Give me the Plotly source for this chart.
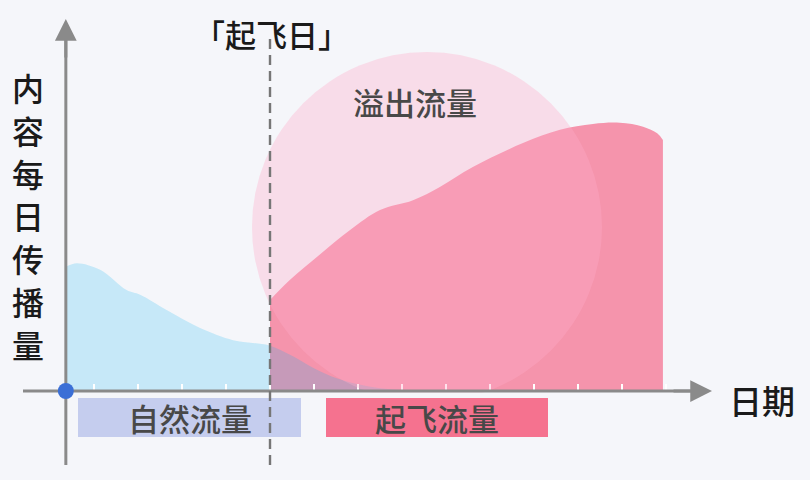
import plotly.graph_objects as go

# natural traffic before the "take-off day" (blue), by day index
natural_days = [0.36, 0.61, 1.14, 1.74, 2.05, 2.65, 3.41, 4.16, 4.61, 5.0, 5.5, 6.0, 6.5, 7.0, 7.5, 8.0, 9.0, 10.0]
natural_reach = [31.8, 32.7, 31.0, 25.8, 24.6, 20.7, 16.1, 13.0, 12.3, 11.6, 9.0, 5.8, 3.3, 1.7, 0.7, 0.25, 0.05, 0.0]

# take-off traffic (pink)
takeoff_days = [5.0, 5.45, 6.14, 6.82, 7.5, 8.25, 8.86, 9.61, 10.75, 11.59, 12.34, 12.95, 13.48, 13.80, 13.93]
takeoff_reach = [23.3, 28.4, 35.0, 41.2, 46.3, 48.8, 52.2, 57.3, 63.4, 66.8, 68.3, 68.6, 67.6, 65.9, 64.2]

tick_days = list(range(1, 15))
takeoff_day = 5
origin_day = 0.36

labels = ["自然流量", "起飞流量", "溢出流量"]
y_title = "内容每日传播量"
x_title = "日期"
takeoff_title = "「起飞日」"

BG = "#f5f6fa"
AXIS = "#8a8a8a"
FONT = "Noto Sans CJK SC"

# page layout helpers: 44 px per day, axis at 391 px, 3.91 px per unit
def dx(px):
    return (px - 50) / 44.0


def vy(py):
    return (391 - py) / 3.91


fig = go.Figure()

fig.add_trace(go.Scatter(
    x=takeoff_days, y=takeoff_reach, mode="lines", fill="tozeroy",
    line=dict(width=0, shape="spline", smoothing=1), fillcolor="#f594ac",
    hoverinfo="skip"))

fig.add_trace(go.Scatter(
    x=natural_days, y=natural_reach, mode="lines", fill="tozeroy",
    line=dict(width=0, shape="spline", smoothing=1), fillcolor="rgba(10,181,240,0.2)",
    hoverinfo="skip"))

shapes = []
# overflow bubble
shapes.append(dict(type="circle", layer="above", xref="x", yref="y",
                   x0=dx(252), x1=dx(602), y0=vy(402), y1=vy(52),
                   fillcolor="rgba(255,172,200,0.35)", line=dict(width=0)))
# hide bubble below the axis
shapes.append(dict(type="rect", layer="above", xref="x", yref="y",
                   x0=dx(0), x1=dx(810), y0=vy(480), y1=vy(392.6),
                   fillcolor=BG, line=dict(width=0)))
# axes
shapes.append(dict(type="line", layer="above", xref="x", yref="y",
                   x0=dx(23), x1=dx(700), y0=0, y1=0,
                   line=dict(color=AXIS, width=3)))
shapes.append(dict(type="line", layer="above", xref="x", yref="y",
                   x0=origin_day, x1=origin_day, y0=vy(465), y1=vy(35),
                   line=dict(color=AXIS, width=3)))
# label boxes
shapes.append(dict(type="rect", layer="above", xref="x", yref="y",
                   x0=dx(78), x1=dx(301), y0=vy(437), y1=vy(398),
                   fillcolor="#c5cdee", line=dict(width=0)))
shapes.append(dict(type="rect", layer="above", xref="x", yref="y",
                   x0=dx(326), x1=dx(548), y0=vy(437), y1=vy(398),
                   fillcolor="#f5728f", line=dict(width=0)))
# take-off day marker
shapes.append(dict(type="line", layer="above", xref="x", yref="y",
                   x0=takeoff_day, x1=takeoff_day, y0=vy(465), y1=vy(38),
                   line=dict(color="#767676", width=2.4, dash="10px,6px")))
# origin dot
shapes.append(dict(type="circle", layer="above", xref="x", yref="y",
                   xsizemode="pixel", ysizemode="pixel",
                   xanchor=origin_day, yanchor=0, x0=-8, x1=8, y0=-8, y1=8,
                   fillcolor="#3b6fd6", line=dict(width=0)))

annotations = [
    # arrow heads
    dict(x=origin_day, y=vy(19), ax=0, ay=40, showarrow=True, arrowhead=2,
         arrowsize=1.45, arrowwidth=3, arrowcolor=AXIS, text=""),
    dict(x=dx(712), y=0, ax=-40, ay=0, showarrow=True, arrowhead=2,
         arrowsize=1.45, arrowwidth=3, arrowcolor=AXIS, text=""),
]
# vertical y title, one character per row
for i, ch in enumerate(y_title):
    annotations.append(dict(x=dx(28), y=vy(87 + 42.8 * i), text=ch, showarrow=False,
                            font=dict(family=FONT, size=32, color="#1a1a1a", weight=500)))
annotations += [
    dict(x=dx(762), y=vy(400), text=x_title, showarrow=False,
         font=dict(family=FONT, size=33, color="#1a1a1a", weight=500)),
    dict(x=dx(271), y=vy(33), text=takeoff_title, showarrow=False,
         font=dict(family=FONT, size=31, color="#1a1a1a", weight=500)),
    dict(x=dx(190), y=vy(417), text=labels[0], showarrow=False,
         font=dict(family=FONT, size=31, color="#484848", weight=500)),
    dict(x=dx(437), y=vy(417), text=labels[1], showarrow=False,
         font=dict(family=FONT, size=31, color="#484848", weight=500)),
    dict(x=dx(415), y=vy(101), text=labels[2], showarrow=False,
         font=dict(family=FONT, size=31, color="#484848", weight=500)),
]

fig.update_layout(
    width=810, height=480,
    margin=dict(l=0, r=0, t=0, b=0),
    paper_bgcolor=BG, plot_bgcolor=BG,
    showlegend=False,
    shapes=shapes,
    annotations=annotations,
    xaxis=dict(range=[dx(0), dx(810)], showgrid=False, zeroline=False,
               showline=False, showticklabels=False,
               ticks="inside", tickmode="array", tickvals=tick_days,
               ticklen=7, tickwidth=2, tickcolor="white",
               anchor="free", position=(480 - 391) / 480),
    yaxis=dict(range=[vy(480), vy(0)], visible=False),
)

fig.write_html("out.html", config={"displayModeBar": False},
               post_script="document.body.style.margin='0';")
